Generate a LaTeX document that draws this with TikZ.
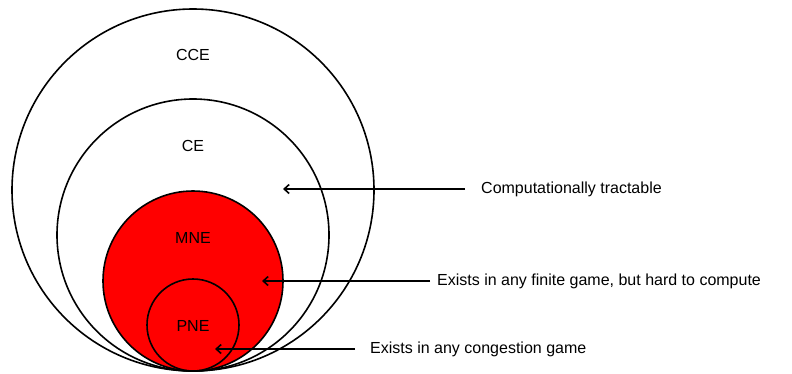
\documentclass[tikz,border=0pt]{standalone}
\usepackage{fontspec}
\setmainfont{Liberation Sans}
\usetikzlibrary{arrows.meta}
\tikzset{
  eqset/.style={circle, draw, line width=1.6pt, inner sep=0pt},
  setlbl/.style={font=\fontsize{16}{19}\selectfont, inner sep=0pt},
  note/.style={font=\fontsize{16}{19}\selectfont, anchor=west, inner sep=0pt},
  ptr/.style={-{Straight Barb[length=5pt, width=9pt]}, line width=1.6pt},
}
\begin{document}
\begin{tikzpicture}[x=1pt, y=-1pt]
    \useasboundingbox (0,0) rectangle (792,373);
    % Nested classes of equilibria
    \node[eqset, minimum size=362pt] (cce) at (193,190) {};
    \node[eqset, minimum size=272pt] (ce) at (193,235) {};
    \node[eqset, fill=red, minimum size=180pt] (mne) at (193,281) {};
    \node[eqset, minimum size=92pt] (pne) at (193,325) {};
    \node[setlbl] (ccelbl) at (193,55) {CCE};
    \node[setlbl] (celbl) at (193,146) {CE};
    \node[setlbl] (mnelbl) at (193,238) {MNE};
    \node[setlbl] (pnelbl) at (193,326) {PNE};
    % Right-hand notes and arrows
    \node[note] (tract) at (481,189) {Computationally tractable};
    \coordinate (tracttip) at (283,189);
    \draw[ptr, shorten <=16pt] (tract.west) -- (tracttip);
    \node[note] (finite) at (437,281) {Exists in any finite game, but hard to compute};
    \coordinate (finitetip) at (262,281);
    \draw[ptr, shorten <=7pt] (finite.west) -- (finitetip);
    \node[note] (cong) at (370,349) {Exists in any congestion game};
    \coordinate (congtip) at (215,349);
    \draw[ptr, shorten <=15pt] (cong.west) -- (congtip);
\end{tikzpicture}
\end{document}
